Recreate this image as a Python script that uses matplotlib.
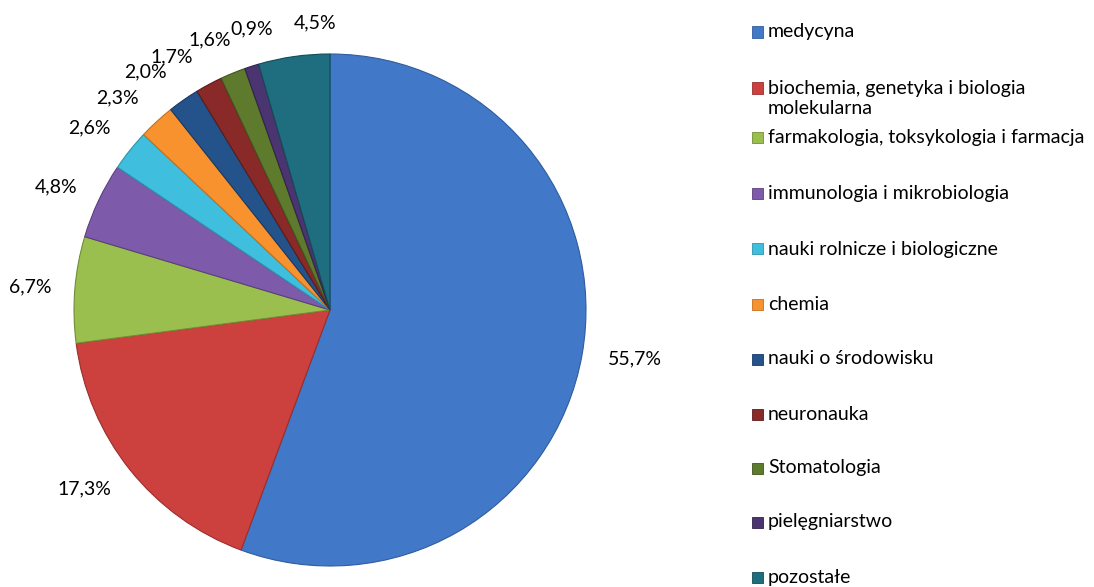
import matplotlib
matplotlib.use("Agg")
import matplotlib.pyplot as plt
from matplotlib.patches import Rectangle

categories = ["medycyna", "biochemia, genetyka i biologia\nmolekularna",
              "farmakologia, toksykologia i farmacja", "immunologia i mikrobiologia",
              "nauki rolnicze i biologiczne", "chemia", "nauki o środowisku",
              "neuronauka", "Stomatologia", "pielęgniarstwo", "pozostałe"]
values = [55.7, 17.3, 6.7, 4.8, 2.6, 2.3, 2.0, 1.7, 1.6, 0.9, 4.5]
value_labels = ["55,7%", "17,3%", "6,7%", "4,8%", "2,6%", "2,3%", "2,0%",
                "1,7%", "1,6%", "0,9%", "4,5%"]
colors = ["#4178C8", "#CC403E", "#9BBF4F", "#7E5BAA", "#3FBFDD", "#F7922E",
          "#24528A", "#8A2A28", "#5E7A2C", "#4B3570", "#1F6E80"]
edges = ["#2F5C9E", "#9A2E2C", "#6F8E34", "#5B3F80", "#2A95AE", "#C56F1C",
         "#163A66", "#5E1A18", "#3F5420", "#32224D", "#134B58"]

# label placement (layout, in pie radius units, relative to centre)
label_pos = [(1.19, -0.19), (-0.96, -0.70), (-1.17, 0.09), (-1.07, 0.48),
             (-0.94, 0.71), (-0.83, 0.83), (-0.72, 0.93), (-0.62, 0.99),
             (-0.47, 1.055), (-0.305, 1.10), (-0.06, 1.12)]

plt.rcParams['font.family'] = ['Lato', 'DejaVu Sans']

W, H = 1094, 587
fig = plt.figure(figsize=(W / 100, H / 100), dpi=100)

cx, cy, r = 330, 310, 256
ax = fig.add_axes([(cx - r) / W, (H - cy - r) / H, 2 * r / W, 2 * r / H])
wedges, texts = ax.pie(values, colors=colors, startangle=90, counterclock=False,
                       labels=value_labels, labeldistance=1.17,
                       wedgeprops=dict(linewidth=0.8),
                       textprops=dict(fontsize=14, color="#000000"))
for w, e in zip(wedges, edges):
    w.set_edgecolor(e)
for t, p in zip(texts, label_pos):
    t.set_position(p)
    t.set_ha("center")
    t.set_va("center")
ax.set_aspect("equal")
ax.set_xlim(-1, 1)
ax.set_ylim(-1, 1)

# legend (manual layout)
leg_y = [32, 88, 137, 193, 249, 304, 359, 414, 468, 522, 577]
sq = 11
for lab, col, e, y in zip(categories, colors, edges, leg_y):
    fig.patches.append(Rectangle((752 / W, (H - y - sq / 2) / H), sq / W, sq / H,
                                 transform=fig.transFigure, facecolor=col,
                                 edgecolor=e, linewidth=0.6))
    if "\n" in lab:
        fig.text(768 / W, (H - y + 8) / H, lab, fontsize=14, va="top",
                 ha="left", color="#000000", linespacing=1.25)
    else:
        fig.text(768 / W, (H - y) / H, lab, fontsize=14, va="center",
                 ha="left", color="#000000")

fig.savefig("out.png", dpi=100)
